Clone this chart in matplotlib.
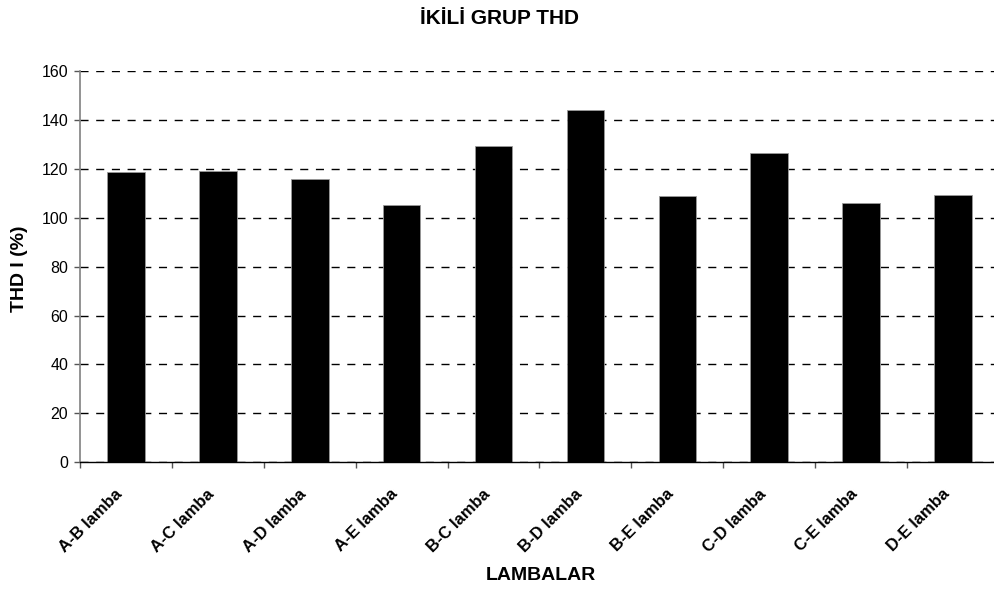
import matplotlib
matplotlib.use("Agg")
import matplotlib.pyplot as plt
import matplotlib.transforms as mtransforms
import numpy as np

# data
categories = ["A-B lamba", "A-C lamba", "A-D lamba", "A-E lamba", "B-C lamba",
              "B-D lamba", "B-E lamba", "C-D lamba", "C-E lamba", "D-E lamba"]
thd_values = [118.6, 119.1, 115.7, 105.3, 129.5, 144.2, 108.8, 126.3, 106.2, 109.2]
y_ticks = [0, 20, 40, 60, 80, 100, 120, 140, 160]

plt.rcParams['font.family'] = ['Liberation Sans', 'DejaVu Sans']

W, H = 995, 592
fig = plt.figure(figsize=(W / 100, H / 100), dpi=100)
ax = fig.add_axes([80 / W, 1 - 462.3 / H, 919 / W, (462.3 - 71) / H])

x = np.arange(len(categories))
ax.bar(x, thd_values, width=0.41, color="black", edgecolor="#9a9a9a", linewidth=0.6, zorder=3)

ax.set_xlim(-0.5, len(categories) - 0.5)
ax.set_ylim(0, 160)
ax.set_yticks(y_ticks)
ax.yaxis.grid(True, color="black", linewidth=1, linestyle=(0, (5.8, 5.5)), zorder=1)

# category boundaries as ticks, labels in the middle
ax.set_xticks(x)
ax.set_xticks(np.arange(-0.5, len(categories)), minor=True)
ax.tick_params(axis="x", which="major", length=0, pad=21)
ax.tick_params(axis="x", which="minor", length=4, width=1, color="#555555", direction="out")
ax.set_xticklabels(categories, rotation=45, ha="right", va="center", rotation_mode="anchor",
                   fontsize=12, fontweight="bold")
shift = mtransforms.ScaledTranslation(-0.06, 0, fig.dpi_scale_trans)
for lbl in ax.get_xticklabels():
    lbl.set_transform(lbl.get_transform() + shift)
ax.tick_params(axis="y", length=4.5, width=1, color="#555555", labelsize=11.5, pad=4)

for s in ["top", "right"]:
    ax.spines[s].set_visible(False)
ax.spines["left"].set_color("#808080")
ax.spines["left"].set_linewidth(1.2)
ax.spines["bottom"].set_color("black")
ax.spines["bottom"].set_linewidth(1)
ax.spines["bottom"].set_zorder(4)

fig.text(499 / W, 1 - 19 / H, "İKİLİ GRUP THD", ha="center", va="center",
         fontsize=15, fontweight="bold")
fig.text(19 / W, 1 - 269 / H, "THD I (%)", ha="center", va="center", rotation=90,
         fontsize=14, fontweight="bold")
fig.text(541 / W, 1 - 576 / H, "LAMBALAR", ha="center", va="center",
         fontsize=14, fontweight="bold")

fig.savefig("out.png", dpi=100)
